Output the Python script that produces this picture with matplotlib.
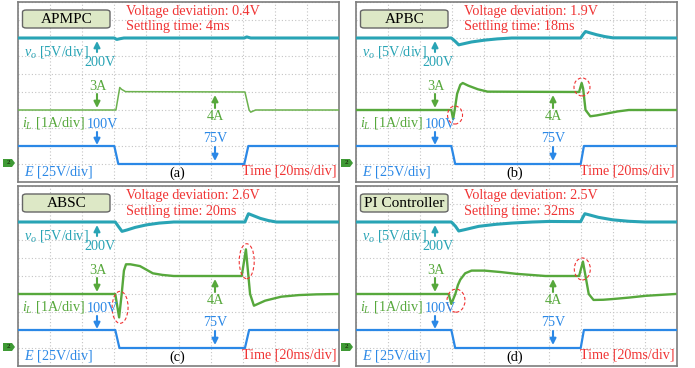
import matplotlib
matplotlib.use('Agg')
import matplotlib.pyplot as plt
from matplotlib.patches import FancyBboxPatch, Ellipse, Polygon

plt.rcParams['font.family'] = ['Liberation Serif', 'DejaVu Serif']
plt.rcParams['mathtext.fontset'] = 'custom'
plt.rcParams['mathtext.rm'] = 'Liberation Serif'
plt.rcParams['mathtext.it'] = 'Liberation Serif:italic'

# ---- waveform data (time in ms, 20 ms/div) ----
# (a) APMPC
a_E_t = [0, 60, 62.5, 141, 143.5, 200]
a_E_v = [100, 100, 75, 75, 100, 100]
a_vo_t = [0, 60, 61.5, 63.5, 66, 141, 142.5, 145, 200]
a_vo_v = [200, 200, 199.6, 199.8, 200, 200, 200.3, 200, 200]
a_iL_t = [0, 61, 63.4, 64.5, 67, 141.4, 144, 145, 148, 200]
a_iL_v = [3, 3, 4.25, 4.15, 4.02, 4.0, 3.0, 2.88, 3.0, 3.0]

# (b) APBC
b_E_t = [0, 59.4, 61.8, 140, 142, 200]
b_E_v = [100, 100, 75, 75, 100, 100]
b_vo_t = [0, 59.4, 62, 64, 67, 72, 80, 88, 97, 140, 141.5, 143, 146, 150, 155, 160, 200]
b_vo_v = [200, 200, 199, 198.1, 198.4, 198.9, 199.4, 199.75, 200, 200, 201, 201.8,
          201.4, 200.9, 200.4, 200.05, 200]
b_iL_t = [0, 59.4, 60.5, 61.5, 63, 65, 66.5, 70, 76, 82, 139, 140.6, 141.5, 143, 146,
          150, 156, 163, 170, 200]
b_iL_v = [3, 3, 2.5, 3.0, 3.9, 4.4, 4.5, 4.35, 4.15, 4.02, 4.0, 4.5, 4.2, 3.0, 2.65,
          2.7, 2.8, 2.92, 3.0, 3.0]

# (c) ABSC
c_E_t = [0, 60.6, 63.2, 141.4, 144, 200]
c_E_v = [100, 100, 75, 75, 100, 100]
c_vo_t = [0, 60.6, 62.5, 64.8, 68, 73, 80, 88, 97, 141.4, 142.5, 143.6, 147, 151,
          156, 161, 200]
c_vo_v = [200, 200, 198.8, 197.4, 197.8, 198.5, 199.2, 199.7, 200, 200, 201.2, 202.3,
          201.7, 201, 200.4, 200, 200]
c_iL_t = [0, 60.6, 63, 64.6, 66, 67.3, 70, 76, 84, 90, 97, 139.4, 142, 144.6, 147,
          154, 164, 175, 186, 200]
c_iL_v = [3, 3, 1.7, 3.0, 4.3, 4.65, 4.65, 4.55, 4.15, 4.06, 4.0, 4.0, 5.48, 3.0,
          2.35, 2.63, 2.85, 2.94, 2.98, 3.0]

# (d) PI Controller
d_E_t = [0, 59.4, 61.8, 140, 142, 200]
d_E_v = [100, 100, 75, 75, 100, 100]
d_vo_t = [0, 59.4, 62, 64, 68, 76.5, 87, 97, 110, 120, 140, 141.2, 142.6, 146, 151,
          160, 170, 180, 200]
d_vo_v = [200, 200, 198.8, 197.5, 197.9, 198.8, 199.35, 199.7, 200, 200.15, 200.1,
          201.2, 202.3, 201.9, 201.3, 200.6, 200.2, 200, 200]
d_iL_t = [0, 57.7, 59.4, 61.9, 63.5, 65, 68, 72, 80, 90, 100, 118, 139, 141.4, 143,
          145, 148, 154, 160, 170, 180.6, 199]
d_iL_v = [3, 3, 2.45, 3.0, 3.5, 3.8, 4.15, 4.3, 4.3, 4.22, 4.12, 4.0, 4.0, 4.8, 4.0,
          3.0, 2.67, 2.68, 2.72, 2.8, 2.9, 3.0]

titles = ['APMPC', 'APBC', 'ABSC', 'PI Controller']
deviations = ['0.4V', '1.9V', '2.6V', '2.5V']
settling = ['4ms', '18ms', '20ms', '32ms']
tags = ['(a)', '(b)', '(c)', '(d)']

# red dashed rings around the current spikes: (t ms, y div, width px, height px)
rings = [
    [],
    [(61.7, 3.72, 15, 18), (140.8, 5.28, 16, 18)],
    [(63.6, 3.26, 16, 32), (142.5, 5.82, 15, 35)],
    [(62.3, 3.63, 18, 23), (141.0, 5.39, 16, 22)],
]

C_VO = '#29a4b5'
C_IL = '#57a83c'
C_E = '#2b88e6'
C_RED = '#f03434'

W, H = 695, 368
PW, PH = 321, 180
origins = [(18, 2), (356, 2), (18, 186), (356, 186)]


def vo_div(v):
    return [8 + (x - 200) / 5 for x in v]


def il_div(v):
    return [4 + (x - 3) / 1 for x in v]


def e_div(v):
    return [1 + (x - 75) / 25 for x in v]


def P(rx, ry):
    return (rx / PW, 1 - ry / PH)


def arrow(ax, x, y_from, y_to, color):
    ax.annotate('', xy=P(x, y_to), xytext=P(x, y_from), xycoords='axes fraction',
                arrowprops=dict(arrowstyle='-|>', color=color, lw=1.5,
                                mutation_scale=9, shrinkA=0, shrinkB=0))


fig = plt.figure(figsize=(W / 100, H / 100), dpi=100)

series = [
    (a_vo_t, a_vo_v, a_iL_t, a_iL_v, a_E_t, a_E_v),
    (b_vo_t, b_vo_v, b_iL_t, b_iL_v, b_E_t, b_E_v),
    (c_vo_t, c_vo_v, c_iL_t, c_iL_v, c_E_t, c_E_v),
    (d_vo_t, d_vo_v, d_iL_t, d_iL_v, d_E_t, d_E_v),
]

fs = 10.2
for k, (ox, oy) in enumerate(origins):
    ax = fig.add_axes([ox / W, 1 - (oy + PH) / H, PW / W, PH / H])
    ax.set_xlim(0, 200)
    ax.set_ylim(0, 10)
    ax.set_xticks(range(0, 201, 20))
    ax.set_yticks(range(0, 11))
    ax.tick_params(length=0, labelbottom=False, labelleft=False)
    ax.grid(True, color='#c4c4c4', linestyle=(0, (1, 2)), lw=0.8)
    for s in ax.spines.values():
        s.set_color('#7d7d7d')
        s.set_linewidth(1.2)

    vt, vv, it, iv, et, ev = series[k]
    ax.plot(vt, vo_div(vv), color=C_VO, lw=2.2, zorder=3)
    ax.plot(it, il_div(iv), color='#6cb24e' if k == 0 else C_IL,
            lw=1.1 if k == 0 else 1.7, zorder=3)
    ax.plot(et, e_div(ev), color=C_E, lw=1.6, zorder=3)

    for (tc, yc, wpx, hpx) in rings[k]:
        ax.add_patch(Ellipse((tc, yc), wpx / PW * 200, hpx / PH * 10, fill=False,
                             ec=C_RED, lw=0.8, ls=(0, (3, 2)), zorder=4))

    # title box
    bx0, by0 = P(4.5, 26)
    bx1, by1 = P(92, 8)
    ax.add_patch(FancyBboxPatch((bx0, by0), bx1 - bx0, by1 - by0,
                                boxstyle='round,pad=0,rounding_size=0.012',
                                transform=ax.transAxes, fc='#dde8c6', ec='#666666',
                                lw=1.0, zorder=5))
    ax.text(*P(48.3, 17.5), titles[k], transform=ax.transAxes, ha='center',
            va='center', fontsize=fs + 0.8, color='black', zorder=6)

    ax.text(*P(108, 10), 'Voltage deviation: ' + deviations[k], transform=ax.transAxes,
            ha='left', va='center', fontsize=fs, color=C_RED, zorder=6)
    ax.text(*P(108, 25), 'Settling time: ' + settling[k], transform=ax.transAxes,
            ha='left', va='center', fontsize=fs, color=C_RED, zorder=6)

    ax.text(*P(6, 50), r'$v_o$ [5V/div]', transform=ax.transAxes, ha='left',
            va='center', fontsize=fs, color=C_VO, zorder=6)
    ax.text(*P(82, 61), '200V', transform=ax.transAxes, ha='center', va='center',
            fontsize=fs, color=C_VO, zorder=6)
    arrow(ax, 79, 50, 39, C_VO)

    ax.text(*P(80, 85), '3A', transform=ax.transAxes, ha='center', va='center',
            fontsize=fs, color=C_IL, zorder=6)
    arrow(ax, 79, 92, 106, C_IL)
    ax.text(*P(4, 121), r'$i_L$ [1A/div]', transform=ax.transAxes, ha='left',
            va='center', fontsize=fs, color=C_IL, zorder=6)

    ax.text(*P(84, 123), '100V', transform=ax.transAxes, ha='center', va='center',
            fontsize=fs, color=C_E, zorder=6)
    arrow(ax, 79, 130, 143, C_E)

    ax.text(*P(197, 115), '4A', transform=ax.transAxes, ha='center', va='center',
            fontsize=fs, color=C_IL, zorder=6)
    arrow(ax, 197, 106, 93, C_IL)

    ax.text(*P(197, 136), '75V', transform=ax.transAxes, ha='center', va='center',
            fontsize=fs, color=C_E, zorder=6)
    arrow(ax, 197, 145, 159, C_E)

    ax.text(*P(6, 170), r'$E$ [25V/div]', transform=ax.transAxes, ha='left',
            va='center', fontsize=fs, color=C_E, zorder=6)
    ax.text(*P(159, 171), tags[k], transform=ax.transAxes, ha='center', va='center',
            fontsize=fs, color='black', zorder=6)
    ax.text(*P(318, 169), 'Time [20ms/div]', transform=ax.transAxes, ha='right',
            va='center', fontsize=fs, color=C_RED, zorder=6)

    # channel-2 marker left of the frame
    mx, my = ox - 15, oy + 161
    pts = [(mx, my - 4), (mx + 9, my - 4), (mx + 12, my), (mx + 9, my + 4), (mx, my + 4)]
    fig.add_artist(Polygon([(x / W, 1 - y / H) for x, y in pts], closed=True,
                           fc='#3f9a35', ec='none', transform=fig.transFigure))
    fig.text((mx + 5) / W, 1 - my / H, '2', ha='center', va='center', fontsize=5,
             color='#1f3a10', fontweight='bold')

fig.savefig('out.png', dpi=100)
